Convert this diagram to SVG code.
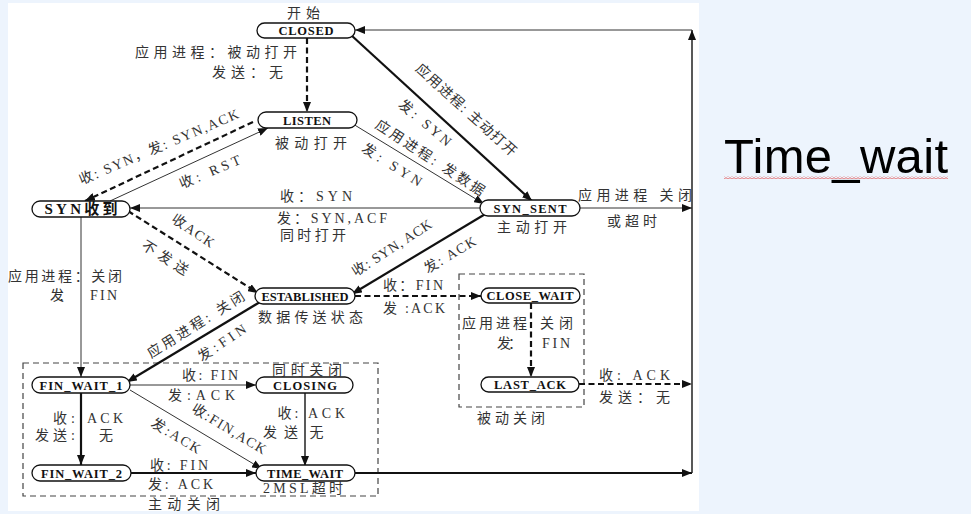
<svg xmlns="http://www.w3.org/2000/svg" width="971" height="514" viewBox="0 0 971 514">
<style>
.node rect{fill:#fff;stroke:#111;stroke-width:1.3}
.nl{font-family:"Liberation Serif","Noto Sans CJK SC",serif;font-weight:bold;font-size:12.5px;text-anchor:middle;fill:#111}
.lb{font-family:"Liberation Serif","Noto Sans CJK SC",serif;font-size:14px;fill:#333;text-anchor:middle}
.r{dominant-baseline:central}
.thick{stroke:#111;stroke-width:2.2;fill:none}
.thin{stroke:#333;stroke-width:1;fill:none}
.mid{stroke:#222;stroke-width:1.5;fill:none}
.dash{stroke-dasharray:6 3.5}
.box{fill:none;stroke:#444;stroke-width:1.2;stroke-dasharray:6 4}
</style>
<defs>
<marker id="ah" markerUnits="userSpaceOnUse" markerWidth="10" markerHeight="8" refX="10" refY="4" orient="auto"><path d="M0,0 L10,4 L0,8 z" fill="#111"/></marker>
<pattern id="wave" width="4" height="3" patternUnits="userSpaceOnUse"><path d="M0,2.2 L2,0.6 L4,2.2" stroke="#e04848" fill="none" stroke-width="0.8"/></pattern>
</defs>
<rect x="0" y="0" width="971" height="514" fill="#edf4fd"/>
<rect x="8" y="3" width="691" height="508" fill="#fff"/>

<g id="boxes">
<rect class="box" x="23" y="363" width="355" height="133"/>
<rect class="box" x="459" y="274" width="125" height="133"/>
</g>

<g id="connectors">
<line class="thick dash" x1="307" y1="38" x2="307" y2="112" marker-end="url(#ah)"/>
<line class="thick dash" x1="253" y1="122" x2="85" y2="201" marker-end="url(#ah)"/>
<line class="thin" x1="110" y1="201" x2="268" y2="128" marker-end="url(#ah)"/>
<line class="thick" x1="351" y1="35" x2="532" y2="201" marker-end="url(#ah)"/>
<line class="thin" x1="353" y1="124" x2="484" y2="204" marker-end="url(#ah)"/>
<line class="thin" x1="480" y1="208" x2="130" y2="208" marker-end="url(#ah)"/>
<line class="thin" x1="580" y1="208" x2="692" y2="208" marker-end="url(#ah)"/>
<line class="thick dash" x1="128" y1="211" x2="258" y2="293" marker-end="url(#ah)"/>
<line class="thick" x1="487" y1="213" x2="352" y2="294" marker-end="url(#ah)"/>
<line class="thick dash" x1="355" y1="296" x2="481" y2="296" marker-end="url(#ah)"/>
<line class="thick dash" x1="531" y1="303" x2="531" y2="377" marker-end="url(#ah)"/>
<line class="thick dash" x1="579" y1="384" x2="692" y2="384" marker-end="url(#ah)"/>
<line class="thin" x1="81" y1="217" x2="81" y2="377" marker-end="url(#ah)"/>
<line class="thick" x1="260" y1="302" x2="127" y2="382" marker-end="url(#ah)"/>
<line class="thin" x1="130" y1="385" x2="256" y2="385" marker-end="url(#ah)"/>
<line class="thick" x1="81" y1="393" x2="81" y2="465" marker-end="url(#ah)"/>
<line class="thin" x1="130" y1="390" x2="262" y2="469" marker-end="url(#ah)"/>
<line class="mid" x1="305" y1="393" x2="305" y2="466" marker-end="url(#ah)"/>
<line class="thick" x1="131" y1="473" x2="256" y2="473" marker-end="url(#ah)"/>
<line class="thick" x1="355" y1="473" x2="692" y2="473" marker-end="url(#ah)"/>
<line class="mid" x1="692" y1="473" x2="692" y2="30" marker-end="url(#ah)"/>
<line class="thin" x1="692" y1="30" x2="355" y2="30" marker-end="url(#ah)"/>
</g>

<g id="closed" class="node"><rect x="257" y="23" width="98" height="15" rx="7.5"/><text class="nl" x="306" y="35" textLength="55">CLOSED</text></g>
<g id="listen" class="node"><rect x="258" y="112" width="99" height="16" rx="8"/><text class="nl" x="307" y="124.5" textLength="48">LISTEN</text></g>
<g id="syn-rcvd" class="node"><rect x="32" y="201" width="98" height="16" rx="8"/><text class="nl" x="81" y="214" textLength="73" style="font-size:15px">SYN收到</text></g>
<g id="syn-sent" class="node"><rect x="480" y="200" width="100" height="16" rx="8"/><text class="nl" x="530" y="212.5" textLength="73">SYN_SENT</text></g>
<g id="established" class="node"><rect x="255" y="288" width="100" height="16" rx="8"/><text class="nl" x="305" y="300.5" textLength="87">ESTABLISHED</text></g>
<g id="close-wait" class="node"><rect x="481" y="288" width="99" height="15" rx="7.5"/><text class="nl" x="530" y="300" textLength="87">CLOSE_WAIT</text></g>
<g id="last-ack" class="node"><rect x="481" y="377" width="98" height="15" rx="7.5"/><text class="nl" x="530" y="389" textLength="72">LAST_ACK</text></g>
<g id="fin-wait-1" class="node"><rect x="32" y="377" width="98" height="16" rx="8"/><text class="nl" x="81" y="389.5" textLength="83">FIN_WAIT_1</text></g>
<g id="closing" class="node"><rect x="256" y="377" width="97" height="16" rx="8"/><text class="nl" x="305" y="389.5" textLength="64">CLOSING</text></g>
<g id="fin-wait-2" class="node"><rect x="32" y="465" width="99" height="16" rx="8"/><text class="nl" x="81.5" y="477.5" textLength="81">FIN_WAIT_2</text></g>
<g id="time-wait" class="node"><rect x="256" y="465" width="99" height="16" rx="8"/><text class="nl" x="305" y="477.5" textLength="76">TIME_WAIT</text></g>

<g id="labels">
<text class="lb" x="303.5" y="18" textLength="33">开始</text>
<text class="lb" x="216" y="57" textLength="162">应用进程：被动打开</text>
<text class="lb" x="247.5" y="77" textLength="71">发送：无</text>
<text class="lb" x="311" y="148" textLength="72">被动打开</text>
<text class="lb" x="316" y="201" textLength="72">收：SYN</text>
<text class="lb" x="332" y="223" textLength="110">发：SYN,ACF</text>
<text class="lb" x="313" y="240" textLength="66">同时打开</text>
<text class="lb" x="635" y="200" textLength="114">应用进程 关闭</text>
<text class="lb" x="632" y="226" textLength="50">或超时</text>
<text class="lb" x="532" y="232" textLength="70">主动打开</text>
<text class="lb" x="65" y="281" textLength="114">应用进程：关闭</text>
<text class="lb" x="61" y="300" textLength="22">发：</text>
<text class="lb" x="103.5" y="300" textLength="27">FIN</text>
<text class="lb" x="310.5" y="322" textLength="105">数据传送状态</text>
<text class="lb" x="413" y="290" textLength="60">收：FIN</text>
<text class="lb" x="414" y="313" textLength="62">发 :ACK</text>
<text class="lb" x="494.5" y="328" textLength="65">应用进程</text>
<text class="lb" x="556.5" y="328" textLength="33">关闭</text>
<text class="lb" x="509.5" y="348" textLength="25">发：</text>
<text class="lb" x="556" y="348" textLength="28">FIN</text>
<text class="lb" x="634.5" y="380" textLength="71">收: ACK</text>
<text class="lb" x="634.5" y="402" textLength="71">发送：无</text>
<text class="lb" x="210" y="380" textLength="56">收: FIN</text>
<text class="lb" x="201.5" y="400" textLength="67">发:ACK</text>
<text class="lb" x="64" y="423" textLength="22">收:</text>
<text class="lb" x="105" y="423" textLength="36">ACK</text>
<text class="lb" x="55" y="440" textLength="40">发送:</text>
<text class="lb" x="106" y="440" textLength="18">无</text>
<text class="lb" x="288" y="418" textLength="21">收:</text>
<text class="lb" x="326.5" y="418" textLength="37">ACK</text>
<text class="lb" x="280.5" y="437" textLength="35">发送</text>
<text class="lb" x="316.5" y="437" textLength="17">无</text>
<text class="lb" x="179" y="470" textLength="58">收: FIN</text>
<text class="lb" x="180.5" y="489" textLength="65">发: ACK</text>
<text class="lb" x="303" y="493" textLength="80">2MSL超时</text>
<text class="lb" x="184" y="509" textLength="72">主动关闭</text>
<text class="lb" x="307" y="375" textLength="70">同时关闭</text>
<text class="lb" x="511" y="423" textLength="68">被动关闭</text>

<text class="lb r" transform="translate(159,147) rotate(-23)" textLength="172">收: SYN，发: SYN,ACK</text>
<text class="lb r" transform="translate(210,172) rotate(-23)" textLength="65">收: RST</text>
<text class="lb r" transform="translate(466,110) rotate(42)" textLength="130">应用进程: 主动打开</text>
<text class="lb r" transform="translate(425,123) rotate(40)" textLength="64">发: SYN</text>
<text class="lb r" transform="translate(430,158) rotate(33)" textLength="127">应用进程: 发数据</text>
<text class="lb r" transform="translate(392,165) rotate(32)" textLength="68">发: SYN</text>
<text class="lb r" transform="translate(193,231) rotate(34)" textLength="48">收ACK</text>
<text class="lb r" transform="translate(165,258) rotate(32)" textLength="52">不发送</text>
<text class="lb r" transform="translate(392,248) rotate(-33)" textLength="92">收: SYN, ACK</text>
<text class="lb r" transform="translate(450,255) rotate(-31)" textLength="58">发: ACK</text>
<text class="lb r" transform="translate(196,325) rotate(-32)" textLength="112">应用进程: 关闭</text>
<text class="lb r" transform="translate(222,343) rotate(-34)" textLength="55">发:FIN</text>
<text class="lb r" transform="translate(229,429) rotate(31)" textLength="84">收:FIN,ACK</text>
<text class="lb r" transform="translate(176,436) rotate(31)" textLength="55">发:ACK</text>
</g>

<g id="side-title">
<text x="724" y="173" font-family="Liberation Sans, Arial, sans-serif" font-size="49" fill="#000" textLength="224">Time_wait</text>
<rect x="724" y="176" width="224" height="3" fill="url(#wave)"/>
</g>
</svg>
